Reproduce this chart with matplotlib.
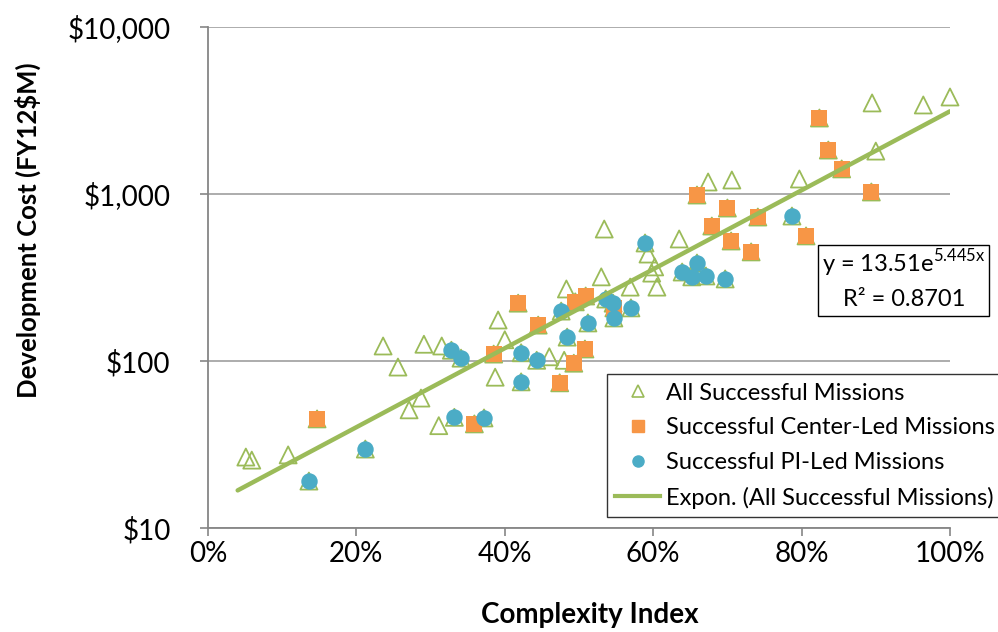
import matplotlib
matplotlib.use("Agg")
import matplotlib.pyplot as plt
from matplotlib.lines import Line2D
from matplotlib.patches import Rectangle
from matplotlib.ticker import FuncFormatter, FixedLocator, NullLocator
import numpy as np

plt.rcParams['font.family'] = ['Lato', 'DejaVu Sans']

# Missions shown only as "All Successful Missions" triangles
other_x = [0.051, 0.059, 0.108, 0.236, 0.256, 0.271, 0.287, 0.291, 0.311, 0.315,
           0.387, 0.391, 0.400, 0.460, 0.480, 0.483, 0.530, 0.534, 0.569, 0.593,
           0.602, 0.598, 0.605, 0.635, 0.674, 0.706, 0.797, 0.895, 0.900, 0.964, 1.000]
other_y = [26.6, 25.5, 27.4, 123, 92, 51, 60, 126, 41, 123,
           80, 176, 134, 106, 101, 270, 319, 617, 277, 437,
           366, 336, 277, 538, 1180, 1213, 1230, 3510, 1807, 3413, 3810]

# Successful Center-Led Missions
center_x = [0.147, 0.359, 0.385, 0.418, 0.445, 0.474, 0.493, 0.495, 0.508, 0.509,
            0.547, 0.659, 0.679, 0.700, 0.705, 0.732, 0.741, 0.806, 0.824, 0.836,
            0.854, 0.894]
center_y = [45, 42, 110, 222, 164, 74, 97, 226, 118, 245,
            208, 986, 643, 824, 523, 450, 728, 561, 2851, 1833,
            1413, 1028]

# Successful PI-Led Missions
pi_x = [0.136, 0.212, 0.328, 0.341, 0.332, 0.372, 0.422, 0.422, 0.443, 0.476,
        0.484, 0.512, 0.536, 0.546, 0.547, 0.570, 0.589, 0.639, 0.652, 0.659,
        0.671, 0.697, 0.787]
pi_y = [19.1, 29.7, 116, 104, 46, 45.6, 112, 75, 101, 199,
        139, 169, 235, 222, 181, 208, 509, 341, 319, 386,
        323, 310, 738]

# All successful missions = every mission
all_x = other_x + center_x + pi_x
all_y = other_y + center_y + pi_y

# Exponential trendline reported on the chart
trend_a = 13.51
trend_b = 5.445
trend_range = [0.04, 1.0]

y_ticks = [10, 100, 1000, 10000]
x_ticks = [0, 0.2, 0.4, 0.6, 0.8, 1.0]

green = '#9BBB59'
orange = '#F79646'
blue = '#4BACC6'

W, H = 998, 632
fig = plt.figure(figsize=(9.98, 6.32), dpi=100)
ax = fig.add_axes([208/W, 1-528/H, (950-208)/W, (528-27)/H])

ax.scatter(all_x, all_y, marker='^', s=150, facecolors='none', edgecolors=green,
           linewidths=1.3, zorder=3, clip_on=False)
ax.scatter(center_x, center_y, marker='s', s=130, color=orange, linewidths=0, zorder=4)
ax.scatter(pi_x, pi_y, marker='o', s=140, color=blue, linewidths=0, zorder=5)

tx = np.linspace(trend_range[0], trend_range[1], 200)
ax.plot(tx, trend_a*np.exp(trend_b*tx), color=green, lw=3.2, zorder=6,
        solid_capstyle='round')

ax.set_yscale('log')
ax.set_ylim(10, 10000)
ax.set_xlim(0, 1)
ax.yaxis.set_major_locator(FixedLocator(y_ticks))
ax.yaxis.set_minor_locator(NullLocator())
ax.yaxis.set_major_formatter(FuncFormatter(lambda v, p: '${:,.0f}'.format(v)))
ax.xaxis.set_major_locator(FixedLocator(x_ticks))
ax.xaxis.set_major_formatter(FuncFormatter(lambda v, p: '{:.0f}%'.format(v*100)))

ax.grid(axis='y', color='#A6A6A6', lw=1.3)
ax.set_axisbelow(True)
for s in ['top', 'right']:
    ax.spines[s].set_visible(False)
for s in ['left', 'bottom']:
    ax.spines[s].set_color('#868686')
    ax.spines[s].set_linewidth(1.3)
ax.tick_params(axis='both', colors='#868686', labelcolor='black', labelsize=20,
               length=6, width=1.2, direction='out')
ax.tick_params(axis='y', pad=21)
ax.tick_params(axis='x', pad=3)

fig.text(590/W, 1-615/H, 'Complexity Index', ha='center', va='center',
         fontsize=20, fontweight='bold')
fig.text(28/W, 1-230/H, 'Development Cost (FY12$M)', ha='center', va='center',
         rotation=90, fontsize=18.5, fontweight='bold')

handles = [
    Line2D([], [], marker='^', ls='none', markerfacecolor='none', markeredgecolor=green,
           markersize=8, markeredgewidth=1.2),
    Line2D([], [], marker='s', ls='none', color=orange, markersize=8),
    Line2D([], [], marker='o', ls='none', color=blue, markersize=8),
    Line2D([], [], color=green, lw=3),
]
labels = ['All Successful Missions', 'Successful Center-Led Missions',
          'Successful PI-Led Missions', 'Expon. (All Successful Missions)']
leg = fig.legend(handles, labels, loc='lower left', bbox_to_anchor=(607/W, 1-517/H),
                 fontsize=17, frameon=True, fancybox=False, edgecolor='black',
                 handlelength=1.9, handletextpad=0.25, borderpad=0.35, labelspacing=0.58,
                 borderaxespad=0)
leg.get_frame().set_linewidth(1.0)

fig.patches.append(Rectangle((818/W, 1-316/H), (989-818)/W, (316-245)/H,
                             transform=fig.transFigure, fill=True, facecolor='white',
                             edgecolor='black', lw=1.0, zorder=1))
fig.text(904/W, 1-263/H, r'y = 13.51e$^{\mathregular{5.445x}}$', ha='center', va='center', fontsize=17)
fig.text(904/W, 1-299/H, 'R² = 0.8701', ha='center', va='center', fontsize=17)

fig.savefig('out.png', dpi=100)
